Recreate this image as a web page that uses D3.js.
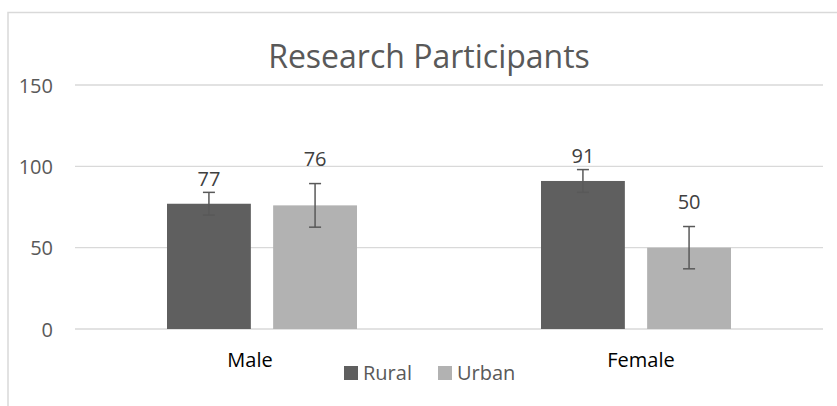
<!DOCTYPE html>
<html>
<head>
<meta charset="utf-8">
<script src="https://cdn.jsdelivr.net/npm/d3@7"></script>
<style>
  html, body { margin: 0; padding: 0; background: #fff; }
  svg { display: block; font-family: "Open Sans", sans-serif; }
</style>
</head>
<body>
<svg id="chart" width="837" height="406"></svg>
<script>
// ---- data ----
const title = "Research Participants";
const categories = ["Male", "Female"];
const seriesNames = ["Rural", "Urban"];
const ruralValues = [77, 91];
const urbanValues = [76, 50];
const ruralErrors = [7, 7];
const urbanErrors = [13.4, 13];
const yTicks = [0, 50, 100, 150];

// ---- styling ----
const colors = { Rural: "#5f5f5f", Urban: "#b2b2b2" };
const labelLift = { Rural: 18, Urban: 39 };
const catLabelNudge = { Male: -12, Female: 5 };

const svg = d3.select("#chart");
const W = 837, H = 406;

// chart border
svg.append("rect")
  .attr("x", 8).attr("y", 12.5)
  .attr("width", W + 20).attr("height", H + 20)
  .attr("fill", "none").attr("stroke", "#d9d9d9").attr("stroke-width", 1.5);

const plot = { left: 75, right: 823, top: 85, bottom: 329 };

const y = d3.scaleLinear().domain([0, 150]).range([plot.bottom, plot.top]);
const x0 = d3.scaleBand().domain(categories).range([plot.left, plot.right]).padding(0);
const bw = x0.bandwidth();
const x1 = d3.scaleBand().domain(seriesNames)
  .range([bw * 0.246, bw * 0.754]).paddingInner(0.21).paddingOuter(0);

// gridlines
svg.append("g").selectAll("line").data(yTicks).join("line")
  .attr("x1", plot.left).attr("x2", plot.right)
  .attr("y1", d => y(d)).attr("y2", d => y(d))
  .attr("stroke", "#d9d9d9").attr("stroke-width", 1.3);

// y axis labels
const yAxis = d3.axisLeft(y).tickValues(yTicks).tickSize(0).tickPadding(0);
const yg = svg.append("g").attr("transform", `translate(53,0)`).call(yAxis);
yg.select(".domain").remove();
yg.selectAll("text")
  .attr("font-family", "Open Sans, sans-serif")
  .attr("font-size", 20).attr("fill", "#595959").attr("dy", "0.35em");

// data rows
const rows = categories.map((c, i) => ({
  cat: c,
  items: [
    { s: "Rural", v: ruralValues[i], e: ruralErrors[i] },
    { s: "Urban", v: urbanValues[i], e: urbanErrors[i] }
  ]
}));

const groups = svg.append("g").selectAll("g").data(rows).join("g")
  .attr("transform", d => `translate(${x0(d.cat)},0)`);

const items = groups.selectAll("g.item").data(d => d.items).join("g").attr("class", "item");

items.append("rect")
  .attr("x", d => x1(d.s)).attr("width", x1.bandwidth())
  .attr("y", d => y(d.v)).attr("height", d => y(0) - y(d.v))
  .attr("fill", d => colors[d.s]);

const errColor = "#595959";
const cap = 6;
items.append("line")
  .attr("x1", d => x1(d.s) + x1.bandwidth() / 2).attr("x2", d => x1(d.s) + x1.bandwidth() / 2)
  .attr("y1", d => y(d.v + d.e)).attr("y2", d => y(d.v - d.e))
  .attr("stroke", errColor).attr("stroke-width", 1.5);
items.append("line")
  .attr("x1", d => x1(d.s) + x1.bandwidth() / 2 - cap).attr("x2", d => x1(d.s) + x1.bandwidth() / 2 + cap)
  .attr("y1", d => y(d.v + d.e)).attr("y2", d => y(d.v + d.e))
  .attr("stroke", errColor).attr("stroke-width", 1.5);
items.append("line")
  .attr("x1", d => x1(d.s) + x1.bandwidth() / 2 - cap).attr("x2", d => x1(d.s) + x1.bandwidth() / 2 + cap)
  .attr("y1", d => y(d.v - d.e)).attr("y2", d => y(d.v - d.e))
  .attr("stroke", errColor).attr("stroke-width", 1.5);

// value labels
items.append("text")
  .attr("x", d => x1(d.s) + x1.bandwidth() / 2)
  .attr("y", d => y(d.v) - labelLift[d.s])
  .attr("text-anchor", "middle")
  .attr("font-size", 20).attr("fill", "#404040")
  .text(d => d.v);

// category labels
svg.append("g").selectAll("text").data(categories).join("text")
  .attr("x", d => x0(d) + bw / 2 + catLabelNudge[d])
  .attr("y", 367)
  .attr("text-anchor", "middle")
  .attr("font-size", 20).attr("fill", "#000")
  .text(d => d);

// title
svg.append("text")
  .attr("x", 429).attr("y", 68)
  .attr("text-anchor", "middle")
  .attr("font-size", 32).attr("fill", "#595959")
  .text(title);

// legend
const legendX = { Rural: 344, Urban: 438 };
const lg = svg.append("g").selectAll("g").data(seriesNames).join("g")
  .attr("transform", d => `translate(${legendX[d]},366)`);
lg.append("rect").attr("width", 14).attr("height", 14).attr("fill", d => colors[d]);
lg.append("text").attr("x", 19).attr("y", 13.5)
  .attr("font-size", 20).attr("fill", "#595959")
  .text(d => d);
</script>
</body>
</html>
